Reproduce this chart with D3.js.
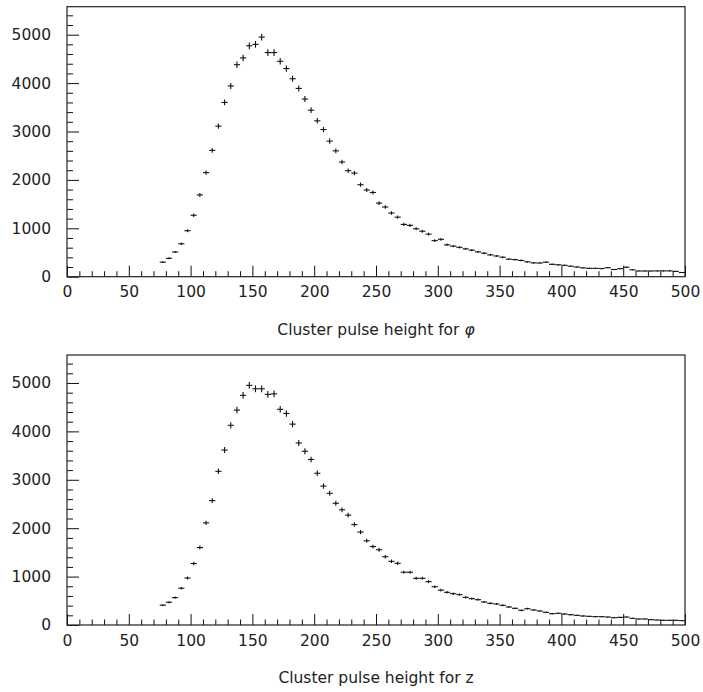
<!DOCTYPE html>
<html>
<head>
<meta charset="utf-8">
<script src="https://cdn.jsdelivr.net/npm/d3@7"></script>
<style>
  html, body { margin: 0; padding: 0; background: #fff; }
  svg text { font-family: "DejaVu Sans", sans-serif; fill: #222; }
</style>
</head>
<body>
<svg id="chart" width="703" height="692"></svg>
<script>
// Histogram binning: 85 bins of width 5 starting at 75
const binStart = 75;
const binWidth = 5;

// Entries per bin, phi clusters
const phiCounts = [
  300, 380, 510, 680, 950, 1270, 1690, 2150, 2610, 3110,
  3600, 3940, 4380, 4520, 4770, 4800, 4950, 4630, 4630, 4450,
  4300, 4090, 3890, 3670, 3440, 3220, 3040, 2800, 2600, 2370,
  2190, 2140, 1900, 1790, 1740, 1520, 1440, 1316, 1230, 1080,
  1060, 990, 940, 880, 745, 773, 658, 631, 607, 575,
  548, 513, 486, 451, 428, 403, 362, 352, 335, 307,
  286, 283, 300, 256, 245, 235, 217, 200, 183, 173,
  173, 169, 186, 149, 165, 195, 142, 118, 118, 118,
  120, 120, 120, 110, 87
];

// Entries per bin, z clusters
const zCounts = [
  410, 470, 565, 760, 970, 1270, 1600, 2110, 2570, 3175,
  3615, 4125, 4440, 4745, 4950, 4880, 4880, 4765, 4775, 4456,
  4370, 4150, 3760, 3590, 3420, 3135, 2870, 2720, 2515, 2380,
  2270, 2075, 1920, 1740, 1620, 1555, 1410, 1315, 1275, 1090,
  1090, 965, 965, 895, 790, 720, 675, 647, 627, 572,
  544, 523, 475, 448, 434, 406, 372, 345, 304, 337,
  310, 289, 262, 234, 241, 227, 213, 200, 186, 179,
  172, 172, 165, 151, 158, 165, 138, 124, 124, 110,
  103, 97, 97, 97, 90
];

// Axis ranges and tick values
const xDomain = [0, 500];
const yDomain = [0, 5578];
const xMajorTicks = [0, 50, 100, 150, 200, 250, 300, 350, 400, 450, 500];
const yMajorTicks = [0, 1000, 2000, 3000, 4000, 5000];

const panels = [
  { counts: phiCounts, title: "Cluster pulse height for ", symbol: "φ", italic: true, top: 6.7, bottom: 276.7 },
  { counts: zCounts,   title: "Cluster pulse height for z", symbol: "", italic: false, top: 355, bottom: 625 }
];

const svg = d3.select("#chart");
const left = 67, right = 685;
const fontSize = 15.5;

panels.forEach(p => {
  const x = d3.scaleLinear().domain(xDomain).range([left, right]);
  const y = d3.scaleLinear().domain(yDomain).range([p.bottom, p.top]);
  const g = svg.append("g");

  // minor ticks every 10 along x, every 200 along y
  const xMinor = d3.range(0, 501, 10).filter(v => v % 50 !== 0);
  const yMinor = d3.range(0, yDomain[1], 200).filter(v => v % 1000 !== 0);

  g.append("g")
    .attr("transform", `translate(0,${p.bottom})`)
    .call(d3.axisBottom(x).tickValues(xMinor).tickSizeInner(-5.5).tickSizeOuter(0).tickFormat(""))
    .call(a => a.select(".domain").remove())
    .call(a => a.selectAll("line").attr("stroke", "#111"));

  g.append("g")
    .attr("transform", `translate(0,${p.bottom})`)
    .call(d3.axisBottom(x).tickValues(xMajorTicks).tickSizeInner(-11).tickSizeOuter(0).tickPadding(9.5).tickFormat(d3.format("d")))
    .call(a => a.select(".domain").remove())
    .call(a => a.selectAll("line").attr("stroke", "#111"))
    .call(a => a.selectAll("text").attr("font-size", fontSize).attr("font-family", "DejaVu Sans").attr("fill", "#222"));

  g.append("g")
    .attr("transform", `translate(${left},0)`)
    .call(d3.axisLeft(y).tickValues(yMinor).tickSizeInner(-6).tickSizeOuter(0).tickFormat(""))
    .call(a => a.select(".domain").remove())
    .call(a => a.selectAll("line").attr("stroke", "#111"));

  g.append("g")
    .attr("transform", `translate(${left},0)`)
    .call(d3.axisLeft(y).tickValues(yMajorTicks).tickSizeInner(-12).tickSizeOuter(0).tickPadding(16).tickFormat(d3.format("d")))
    .call(a => a.select(".domain").remove())
    .call(a => a.selectAll("line").attr("stroke", "#111"))
    .call(a => a.selectAll("text").attr("font-size", fontSize).attr("font-family", "DejaVu Sans").attr("fill", "#222"));

  // frame
  g.append("rect")
    .attr("x", left).attr("y", p.top)
    .attr("width", right - left).attr("height", p.bottom - p.top)
    .attr("fill", "none").attr("stroke", "#222").attr("stroke-width", 1.2);

  // data points: horizontal bar spans the bin, vertical bar is the Poisson error
  const pts = g.append("g").attr("stroke", "#111").attr("stroke-width", 1.1);
  p.counts.forEach((c, i) => {
    const lo = binStart + i * binWidth;
    const xc = x(lo + binWidth / 2);
    const err = Math.sqrt(c);
    pts.append("line")
      .attr("x1", x(lo)).attr("x2", x(lo + binWidth))
      .attr("y1", y(c)).attr("y2", y(c));
    pts.append("line")
      .attr("x1", xc).attr("x2", xc)
      .attr("y1", y(c - err)).attr("y2", y(c + err));
  });

  // axis title
  const t = g.append("text")
    .attr("x", (left + right) / 2)
    .attr("y", p.bottom + 58)
    .attr("text-anchor", "middle")
    .attr("font-size", fontSize);
  t.append("tspan").text(p.title);
  if (p.symbol) t.append("tspan").attr("font-style", p.italic ? "italic" : "normal").text(p.symbol);
});
</script>
</body>
</html>
